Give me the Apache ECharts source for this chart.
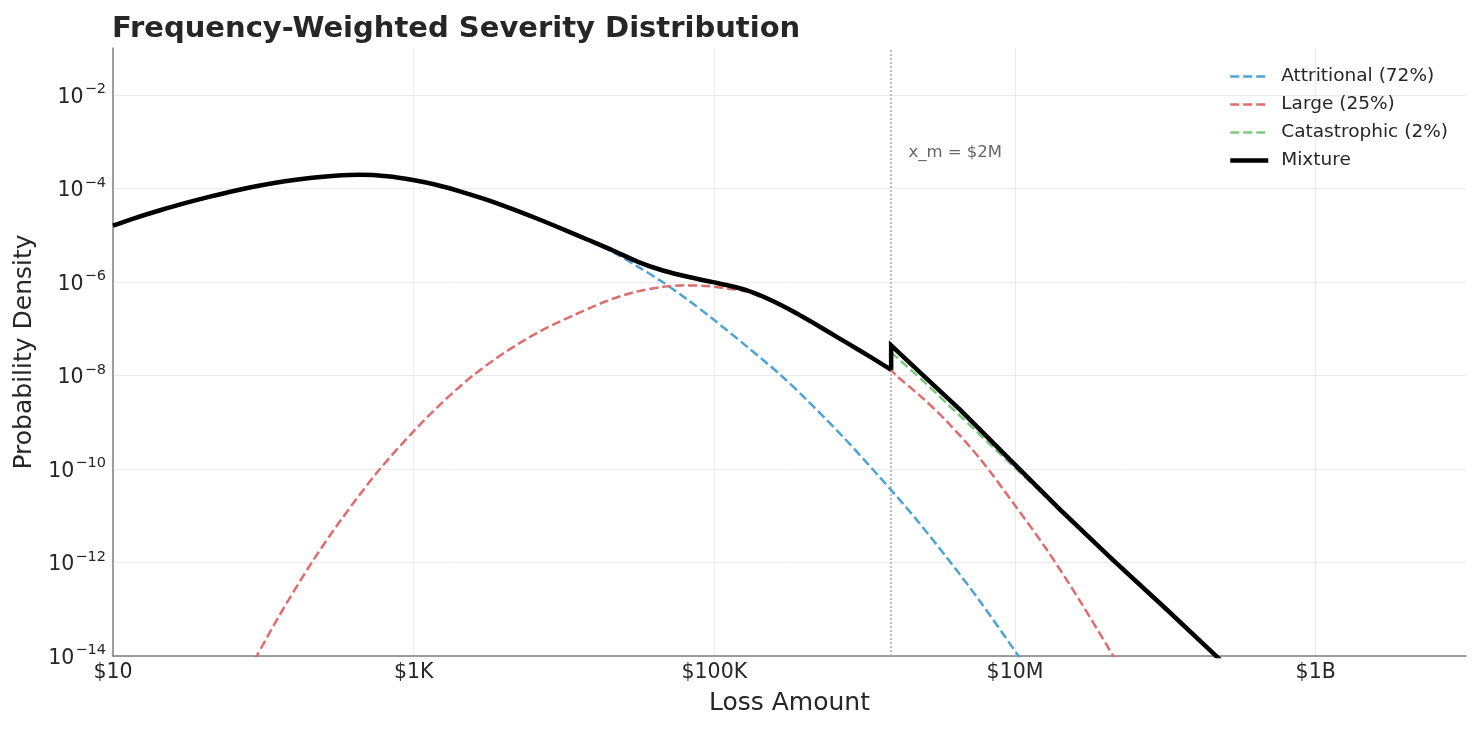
<!DOCTYPE html>
<html>
<head>
<meta charset="utf-8">
<script src="https://cdn.jsdelivr.net/npm/echarts@6/dist/echarts.min.js"></script>
<style>
html,body{margin:0;padding:0;background:#ffffff;}
#chart{width:1480px;height:730px;}
</style>
</head>
<body>
<div id="chart"></div>
<script>
// ---- Data ----
const titleText = 'Frequency-Weighted Severity Distribution';
const xName = 'Loss Amount';
const yName = 'Probability Density';

const xTickExps = [1, 3, 5, 7, 9];
const xTickLabels = ['$10', '$1K', '$100K', '$10M', '$1B'];

const thresholdX = 1.5e6;
const thresholdLabel = 'x_m = $2M';
const thresholdLabelPos = [1.94e6, 5.8e-4];

const seriesNames = ['Attritional (72%)', 'Large (25%)', 'Catastrophic (2%)', 'Mixture'];

const attritionalX = [10, 14.0, 20.6, 30.1, 44.2, 64.7, 95.1, 139, 204, 300, 440, 664, 989, 1429, 2030, 2979, 4370, 6412, 9400, 14420, 21280, 31190, 45710, 66990, 98400, 164100, 272900, 411100, 716100, 1262000, 2104000, 3508000, 5848000, 10260000, 11640000];
const attritionalY = [1.585e-5, 2.31e-5, 3.39e-5, 4.82e-5, 6.65e-5, 8.89e-5, 1.146e-4, 1.41e-4, 1.66e-4, 1.85e-4, 1.94e-4, 1.81e-4, 1.51e-4, 1.18e-4, 8.63e-5, 5.85e-5, 3.78e-5, 2.35e-5, 1.42e-5, 7.66e-6, 4.26e-6, 2.09e-6, 9.68e-7, 4.07e-7, 1.58e-7, 4.17e-8, 1.05e-8, 3.02e-9, 4.9e-10, 6.61e-11, 1.0e-11, 1.29e-12, 1.48e-13, 1.14e-14, 6.3e-15];

const largeX = [79.4, 90.4, 125.9, 209.9, 323.6, 579.4, 1016, 1585, 2489, 4169, 6918, 11480, 19230, 29510, 45710, 63100, 88900, 120200, 164800, 272900, 452900, 762100, 1084000, 1500000, 1630000, 2399000, 3508000, 5848000, 9683000, 16220000, 27040000, 42760000, 47860000];
const largeY = [4.68e-15, 1.0e-14, 6.76e-14, 1.0e-12, 7.59e-12, 8.91e-11, 6.76e-10, 2.82e-9, 1.0e-8, 3.31e-8, 8.71e-8, 1.91e-7, 3.89e-7, 6.03e-7, 7.85e-7, 8.41e-7, 8.13e-7, 7.2e-7, 6.17e-7, 3.18e-7, 1.32e-7, 4.9e-8, 2.5e-8, 1.28e-8, 9.77e-9, 3.39e-9, 1.05e-9, 1.66e-10, 1.91e-11, 1.91e-12, 1.51e-13, 1.32e-14, 7.08e-15];

const catX = [1500000, 2450000, 9730000, 31620000, 100000000, 251200000];
const catY = [3.11e-8, 7.6e-9, 1.14e-10, 3.31e-12, 1.05e-13, 6.6e-15];

const mixBodyX = [10, 14.0, 20.6, 30.1, 44.2, 64.7, 95.1, 139, 204, 300, 440, 664, 989, 1429, 2030, 2979, 4370, 6412, 9400, 14420, 21180, 31050, 45500, 68870, 97900, 127100, 164800, 210400, 272900, 354000, 452900, 587500, 762100, 1084000, 1500000];
const mixBodyY = [1.585e-5, 2.31e-5, 3.39e-5, 4.82e-5, 6.65e-5, 8.89e-5, 1.146e-4, 1.41e-4, 1.66e-4, 1.85e-4, 1.94e-4, 1.81e-4, 1.51e-4, 1.18e-4, 8.63e-5, 5.85e-5, 3.78e-5, 2.35e-5, 1.42e-5, 7.93e-6, 4.67e-6, 2.68e-6, 1.75e-6, 1.25e-6, 9.86e-7, 8.22e-7, 6.59e-7, 4.85e-7, 3.28e-7, 2.11e-7, 1.34e-7, 8.15e-8, 4.94e-8, 2.51e-8, 1.31e-8];

const mixTailX = [1500000, 1500000, 2512000, 4305000, 9683000, 19950000, 44770000, 100000000, 207000000, 263000000];
const mixTailY = [1.31e-8, 4.39e-8, 9.33e-9, 1.86e-9, 1.36e-10, 1.35e-11, 1.14e-12, 1.05e-13, 1.16e-14, 5.6e-15];

// ---- Styles ----
const FONT = 'DejaVu Sans';
const TEXT = '#262626';
const COLORS = ['#4ba3d6', '#e06c6c', '#7cc97c', '#000000'];

const zip = (xs, ys) => xs.map((x, i) => [x, ys[i]]);
const expOf = v => Math.round(Math.log10(v));

const chart = echarts.init(document.getElementById('chart'), null, {renderer: 'canvas'});

const dashed = [9, 4];

const option = {
  backgroundColor: '#ffffff',
  animation: false,
  textStyle: {fontFamily: FONT, color: TEXT},
  title: {
    text: titleText,
    left: 112,
    top: 15,
    padding: 0,
    textStyle: {fontFamily: FONT, fontSize: 29, fontWeight: 'bold', color: TEXT}
  },
  grid: {left: 113, right: 14, top: 48, bottom: 74, containLabel: false},
  legend: {
    orient: 'vertical',
    left: 1228,
    top: 67,
    padding: 0,
    itemWidth: 38,
    itemHeight: 20,
    itemGap: 9,
    data: seriesNames,
    itemStyle: {opacity: 0},
    lineStyle: {width: 'inherit'},
    textStyle: {fontFamily: FONT, fontSize: 18.5, color: TEXT, padding: [0, 0, 0, 8]}
  },
  xAxis: {
    type: 'log',
    logBase: 10,
    min: 10,
    max: 1e10,
    interval: 2,
    name: xName,
    nameLocation: 'middle',
    nameGap: 35,
    nameTextStyle: {fontFamily: FONT, fontSize: 25, color: TEXT},
    axisLine: {show: true, lineStyle: {color: '#808080', width: 1.5}},
    axisTick: {show: false},
    axisLabel: {
      fontFamily: FONT, fontSize: 20.5, color: TEXT, margin: 6,
      showMaxLabel: false,
      formatter: v => {
        const i = xTickExps.indexOf(expOf(v));
        return i >= 0 ? xTickLabels[i] : '';
      }
    },
    splitLine: {show: true, showMaxLine: false, lineStyle: {color: '#ebebeb', width: 1}}
  },
  yAxis: {
    type: 'log',
    logBase: 10,
    min: 1e-14,
    max: 1e-1,
    interval: 2,
    name: yName,
    nameLocation: 'middle',
    nameGap: 67,
    nameTextStyle: {fontFamily: FONT, fontSize: 25, color: TEXT},
    axisLine: {show: true, lineStyle: {color: '#808080', width: 1.5}},
    axisTick: {show: false},
    axisLabel: {
      fontFamily: FONT, color: TEXT, margin: 7,
      showMaxLabel: false,
      formatter: v => '{b|10}{s|' + String(expOf(v)).replace('-', '\u2212') + '}',
      rich: {
        b: {fontFamily: FONT, fontSize: 20.5, color: TEXT, lineHeight: 26, verticalAlign: 'bottom'},
        s: {fontFamily: FONT, fontSize: 14.5, color: TEXT, lineHeight: 26, verticalAlign: 'top', padding: [0, 0, 0, 1]}
      }
    },
    splitLine: {show: true, showMaxLine: false, lineStyle: {color: '#ebebeb', width: 1}}
  },
  series: [
    {
      name: seriesNames[0], type: 'line', symbol: 'none', smooth: 0.3, clip: true,
      data: zip(attritionalX, attritionalY),
      lineStyle: {color: COLORS[0], width: 2.5, type: dashed},
      itemStyle: {color: COLORS[0]}, z: 2
    },
    {
      name: seriesNames[1], type: 'line', symbol: 'none', smooth: 0.3, clip: true,
      data: zip(largeX, largeY),
      lineStyle: {color: COLORS[1], width: 2.5, type: dashed},
      itemStyle: {color: COLORS[1]}, z: 2
    },
    {
      name: seriesNames[2], type: 'line', symbol: 'none', smooth: false, clip: true,
      data: zip(catX, catY),
      lineStyle: {color: COLORS[2], width: 2.5, type: dashed},
      itemStyle: {color: COLORS[2]}, z: 2,
      markLine: {
        silent: true,
        symbol: ['none', 'none'],
        label: {show: false},
        lineStyle: {color: '#aaaaaa', width: 1.5, type: [2, 2]},
        data: [{xAxis: thresholdX}],
        z: 1
      },
      markPoint: {
        silent: true,
        symbol: 'circle',
        symbolSize: 1,
        itemStyle: {color: 'rgba(0,0,0,0)'},
        label: {show: true, position: 'right', distance: 0, formatter: thresholdLabel, fontFamily: FONT, fontSize: 16.5, color: '#666666'},
        data: [{coord: thresholdLabelPos}]
      }
    },
    {
      name: seriesNames[3], type: 'line', symbol: 'none', smooth: 0.3, clip: true,
      data: zip(mixBodyX, mixBodyY),
      lineStyle: {color: COLORS[3], width: 4.5, join: 'round'},
      itemStyle: {color: COLORS[3]}, z: 5
    },
    {
      name: seriesNames[3], type: 'line', symbol: 'none', smooth: false, clip: true,
      data: zip(mixTailX, mixTailY),
      lineStyle: {color: COLORS[3], width: 4.5, join: 'miter'},
      itemStyle: {color: COLORS[3]}, z: 5
    }
  ]
};
chart.setOption(option);
</script>
</body>
</html>
